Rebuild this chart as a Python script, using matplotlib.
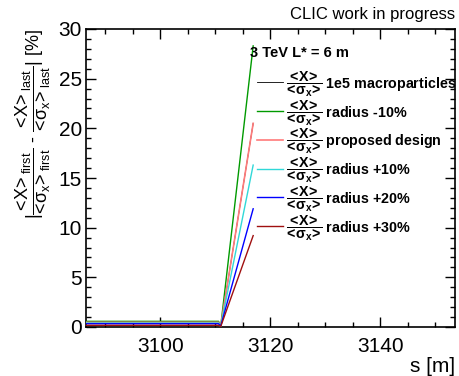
import matplotlib
matplotlib.use("Agg")
import matplotlib.pyplot as plt
from matplotlib.ticker import MultipleLocator

plt.rcParams['font.family'] = ['Liberation Sans', 'DejaVu Sans']
plt.rcParams['mathtext.fontset'] = 'custom'
plt.rcParams['mathtext.rm'] = 'Liberation Sans'
plt.rcParams['mathtext.it'] = 'Liberation Sans:italic'
plt.rcParams['mathtext.bf'] = 'Liberation Sans:bold'
plt.rcParams['mathtext.default'] = 'regular'

# Longitudinal positions s [m] of the sampled points
s_pos = [3080.0, 3110.6, 3111.0, 3116.9]

# Relative offset difference [%] for each configuration
series_names = ["1e5 macroparticles", "radius -10%", "proposed design",
                "radius +10%", "radius +20%", "radius +30%"]
val_1e5 = [0.47, 0.47, 0.1, 20.5]
val_m10 = [0.57, 0.57, 0.1, 28.3]
val_prop = [0.47, 0.47, 0.1, 20.5]
val_p10 = [0.40, 0.40, 0.1, 16.3]
val_p20 = [0.33, 0.33, 0.1, 11.9]
val_p30 = [0.17, 0.17, 0.05, 9.2]
series_values = [val_1e5, val_m10, val_prop, val_p10, val_p20, val_p30]
series_colors = ["black", "#009a00", "#ff7a7a", "#30d8d8", "#0000ff", "#a01010"]
series_widths = [0.6, 1.0, 1.2, 1.0, 1.0, 1.0]

x_ticks = [3100, 3120, 3140]
y_ticks = [0, 5, 10, 15, 20, 25, 30]

fig = plt.figure(figsize=(4.59, 3.76), dpi=100)
ax = fig.add_axes([86 / 459, 49 / 376, 369 / 459, 298 / 376])

frac = r"$\dfrac{\!<\!X\!>\!}{\!<\!\sigma_{x}\!>\!}$"
handles = []
for i, (name, vals, col, w) in enumerate(zip(series_names, series_values,
                                             series_colors, series_widths)):
    ln, = ax.plot(s_pos, vals, color=col, lw=w, zorder=2 + i, label=frac + " " + name)
    handles.append(ln)

ax.set_xlim(3086.5, 3153.6)
ax.set_ylim(0, 30)
ax.set_xticks(x_ticks)
ax.set_yticks(y_ticks)
ax.xaxis.set_minor_locator(MultipleLocator(5))
ax.yaxis.set_minor_locator(MultipleLocator(1))
ax.tick_params(which='both', direction='in', top=True, right=True,
               labelsize=15, width=1.0)
ax.tick_params(which='major', length=7)
ax.tick_params(which='minor', length=3.5)
ax.tick_params(axis='x', which='major', pad=7)
ax.tick_params(axis='y', which='major', pad=3)
for sp in ax.spines.values():
    sp.set_linewidth(1.2)

ax.set_xlabel("s [m]", fontsize=15, loc='right', labelpad=1)
ax.set_ylabel(r"$|\dfrac{\!<\!X\!>_{first}}{\!<\!\sigma_{x}\!>_{first}}$ - "
              r"$\dfrac{\!<\!X\!>_{last}}{\!<\!\sigma_{x}\!>_{last}}|$ [%]",
              fontsize=13, loc='top', labelpad=4)

leg = ax.legend(handles=handles, loc='upper left',
                bbox_to_anchor=(257 / 459, 1 - 69 / 376),
                bbox_transform=fig.transFigure, frameon=False,
                prop={'weight': 'bold', 'size': 10.3}, handlelength=1.85,
                handletextpad=0.2, labelspacing=-0.08, borderaxespad=0,
                borderpad=0, handleheight=1.0)
leg.set_clip_on(False)

fig.text(250 / 459, 1 - 53 / 376, "3 TeV L* = 6 m", ha='left', va='center',
         fontsize=10.5, fontweight='bold')
fig.text(455 / 459, 1 - 14 / 376, "CLIC work in progress", ha='right', va='center',
         fontsize=12)

fig.savefig("out.png", dpi=100)
